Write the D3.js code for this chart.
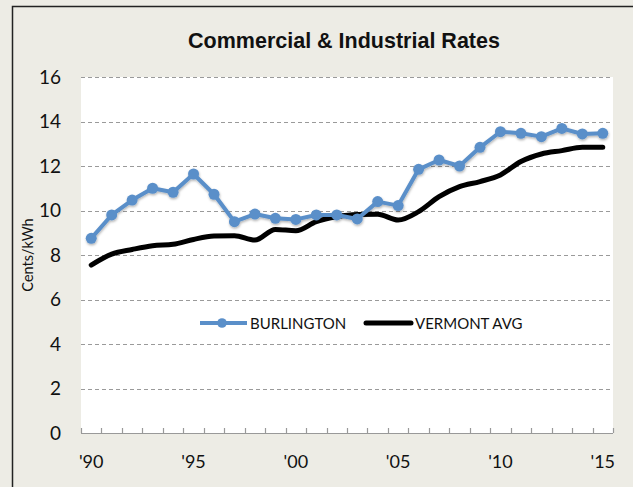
<!DOCTYPE html>
<html><head><meta charset="utf-8">
<script src="https://cdn.jsdelivr.net/npm/d3@7"></script>
<style>body{margin:0;background:#fff;} svg{display:block;}</style>
</head><body>
<script>
const years = ["'90","'91","'92","'93","'94","'95","'96","'97","'98","'99","'00","'01","'02","'03","'04","'05","'06","'07","'08","'09","'10","'11","'12","'13","'14","'15"];
const burlington = [8.75,9.8,10.47,11.0,10.82,11.64,10.73,9.5,9.84,9.65,9.6,9.8,9.8,9.62,10.4,10.22,11.85,12.27,12.0,12.84,13.54,13.47,13.32,13.69,13.44,13.47];
const vermontAvg = [7.55,8.04,8.25,8.42,8.48,8.7,8.85,8.87,8.67,9.15,9.09,9.5,9.72,9.82,9.83,9.57,9.95,10.62,11.07,11.3,11.6,12.2,12.54,12.69,12.84,12.84];
const yTicks = [0,2,4,6,8,10,12,14,16];
const xLabels = ["'90","'95","'00","'05","'10","'15"];
const seriesNames = ["BURLINGTON","VERMONT AVG"];
const title = "Commercial & Industrial Rates";
const yTitle = "Cents/kWh";

const W=633,H=487;
const svg=d3.select("body").append("svg").attr("width",W).attr("height",H);
const defs=svg.append("defs");
const f=defs.append("filter").attr("id","sh").attr("x","-10%").attr("y","-10%").attr("width","120%").attr("height","130%");
f.append("feDropShadow").attr("dx",0.5).attr("dy",1.5).attr("stdDeviation",1.2).attr("flood-color","#000").attr("flood-opacity",0.3);

svg.append("rect").attr("width",W).attr("height",H).attr("fill","#EDECE5");
svg.append("path").attr("d",`M12.5,${H} V6.5 H${W}`).attr("fill","none").attr("stroke","#222").attr("stroke-width",1.5);

const L=81,R=613,T=77,B=433;
svg.append("rect").attr("x",L).attr("y",T).attr("width",R-L).attr("height",B-T).attr("fill","#fff");

const x=d3.scaleBand().domain(years).range([L,R]).padding(0);
const y=d3.scaleLinear().domain([0,16]).range([B,T]);
const font="Lato, 'Open Sans', sans-serif";

// gridlines
svg.append("g").selectAll("line").data(yTicks.filter(d=>d>0)).join("line")
  .attr("x1",L).attr("x2",R).attr("y1",d=>Math.round(y(d))+0.5).attr("y2",d=>Math.round(y(d))+0.5)
  .attr("stroke","#9a9a9a").attr("stroke-width",1).attr("stroke-dasharray","4,3");

// y labels
svg.append("g").selectAll("text").data(yTicks).join("text")
  .attr("x",61).attr("y",d=>y(d)).attr("dy","0.36em").attr("text-anchor","end")
  .attr("font-family",font).attr("font-size",19).attr("fill","#111").text(d=>d);

// x axis
svg.append("line").attr("x1",L).attr("x2",R).attr("y1",B+0.5).attr("y2",B+0.5).attr("stroke","#999").attr("stroke-width",1.2);
const bounds=years.map(d=>x(d)).concat([R]);
svg.append("g").selectAll("line").data(bounds).join("line")
  .attr("x1",d=>Math.round(d)+0.5).attr("x2",d=>Math.round(d)+0.5).attr("y1",B).attr("y2",B-5)
  .attr("stroke","#999").attr("stroke-width",1.2);
svg.append("g").selectAll("text").data(xLabels).join("text")
  .attr("x",d=>x(d)+x.bandwidth()/2).attr("y",468).attr("text-anchor","middle")
  .attr("font-family",font).attr("font-size",18).attr("fill","#111").text(d=>d);

// titles
svg.append("text").attr("x",344).attr("y",48).attr("text-anchor","middle")
  .attr("font-family","'Liberation Sans', Arial, sans-serif").attr("font-weight","bold").attr("font-size",21.5).attr("fill","#111").text(title);
svg.append("text").attr("transform","translate(33,255) rotate(-90)").attr("text-anchor","middle")
  .attr("font-family",font).attr("font-size",14.5).attr("fill","#111").text(yTitle);

const cx=(d,i)=>x(years[i])+x.bandwidth()/2;
// Vermont
const vLine=d3.line().x(cx).y(d=>y(d)).curve(d3.curveMonotoneX);
svg.append("path").datum(vermontAvg).attr("d",vLine).attr("fill","none").attr("stroke","#000").attr("stroke-width",5).attr("stroke-linecap","round").attr("stroke-linejoin","round");
// Burlington
const blue="#5A8FC9";
const gB=svg.append("g").attr("filter","url(#sh)");
const bLine=d3.line().x(cx).y(d=>y(d));
gB.append("path").datum(burlington).attr("d",bLine).attr("fill","none").attr("stroke",blue).attr("stroke-width",4).attr("stroke-linejoin","round");
gB.selectAll("circle").data(burlington).join("circle").attr("cx",cx).attr("cy",d=>y(d)).attr("r",5.5).attr("fill",blue);

// legend
const lg=svg.append("g");
lg.append("line").attr("x1",200).attr("x2",247).attr("y1",323).attr("y2",323).attr("stroke",blue).attr("stroke-width",4);
lg.append("circle").attr("cx",222).attr("cy",323).attr("r",4.8).attr("fill",blue);
lg.append("text").attr("x",250).attr("y",329).attr("font-family",font).attr("font-size",15).attr("fill","#111").text(seriesNames[0]);
lg.append("line").attr("x1",366).attr("x2",411).attr("y1",323).attr("y2",323).attr("stroke","#000").attr("stroke-width",5).attr("stroke-linecap","round");
lg.append("text").attr("x",415).attr("y",329).attr("font-family",font).attr("font-size",15).attr("fill","#111").text(seriesNames[1]);
</script>
</body></html>
